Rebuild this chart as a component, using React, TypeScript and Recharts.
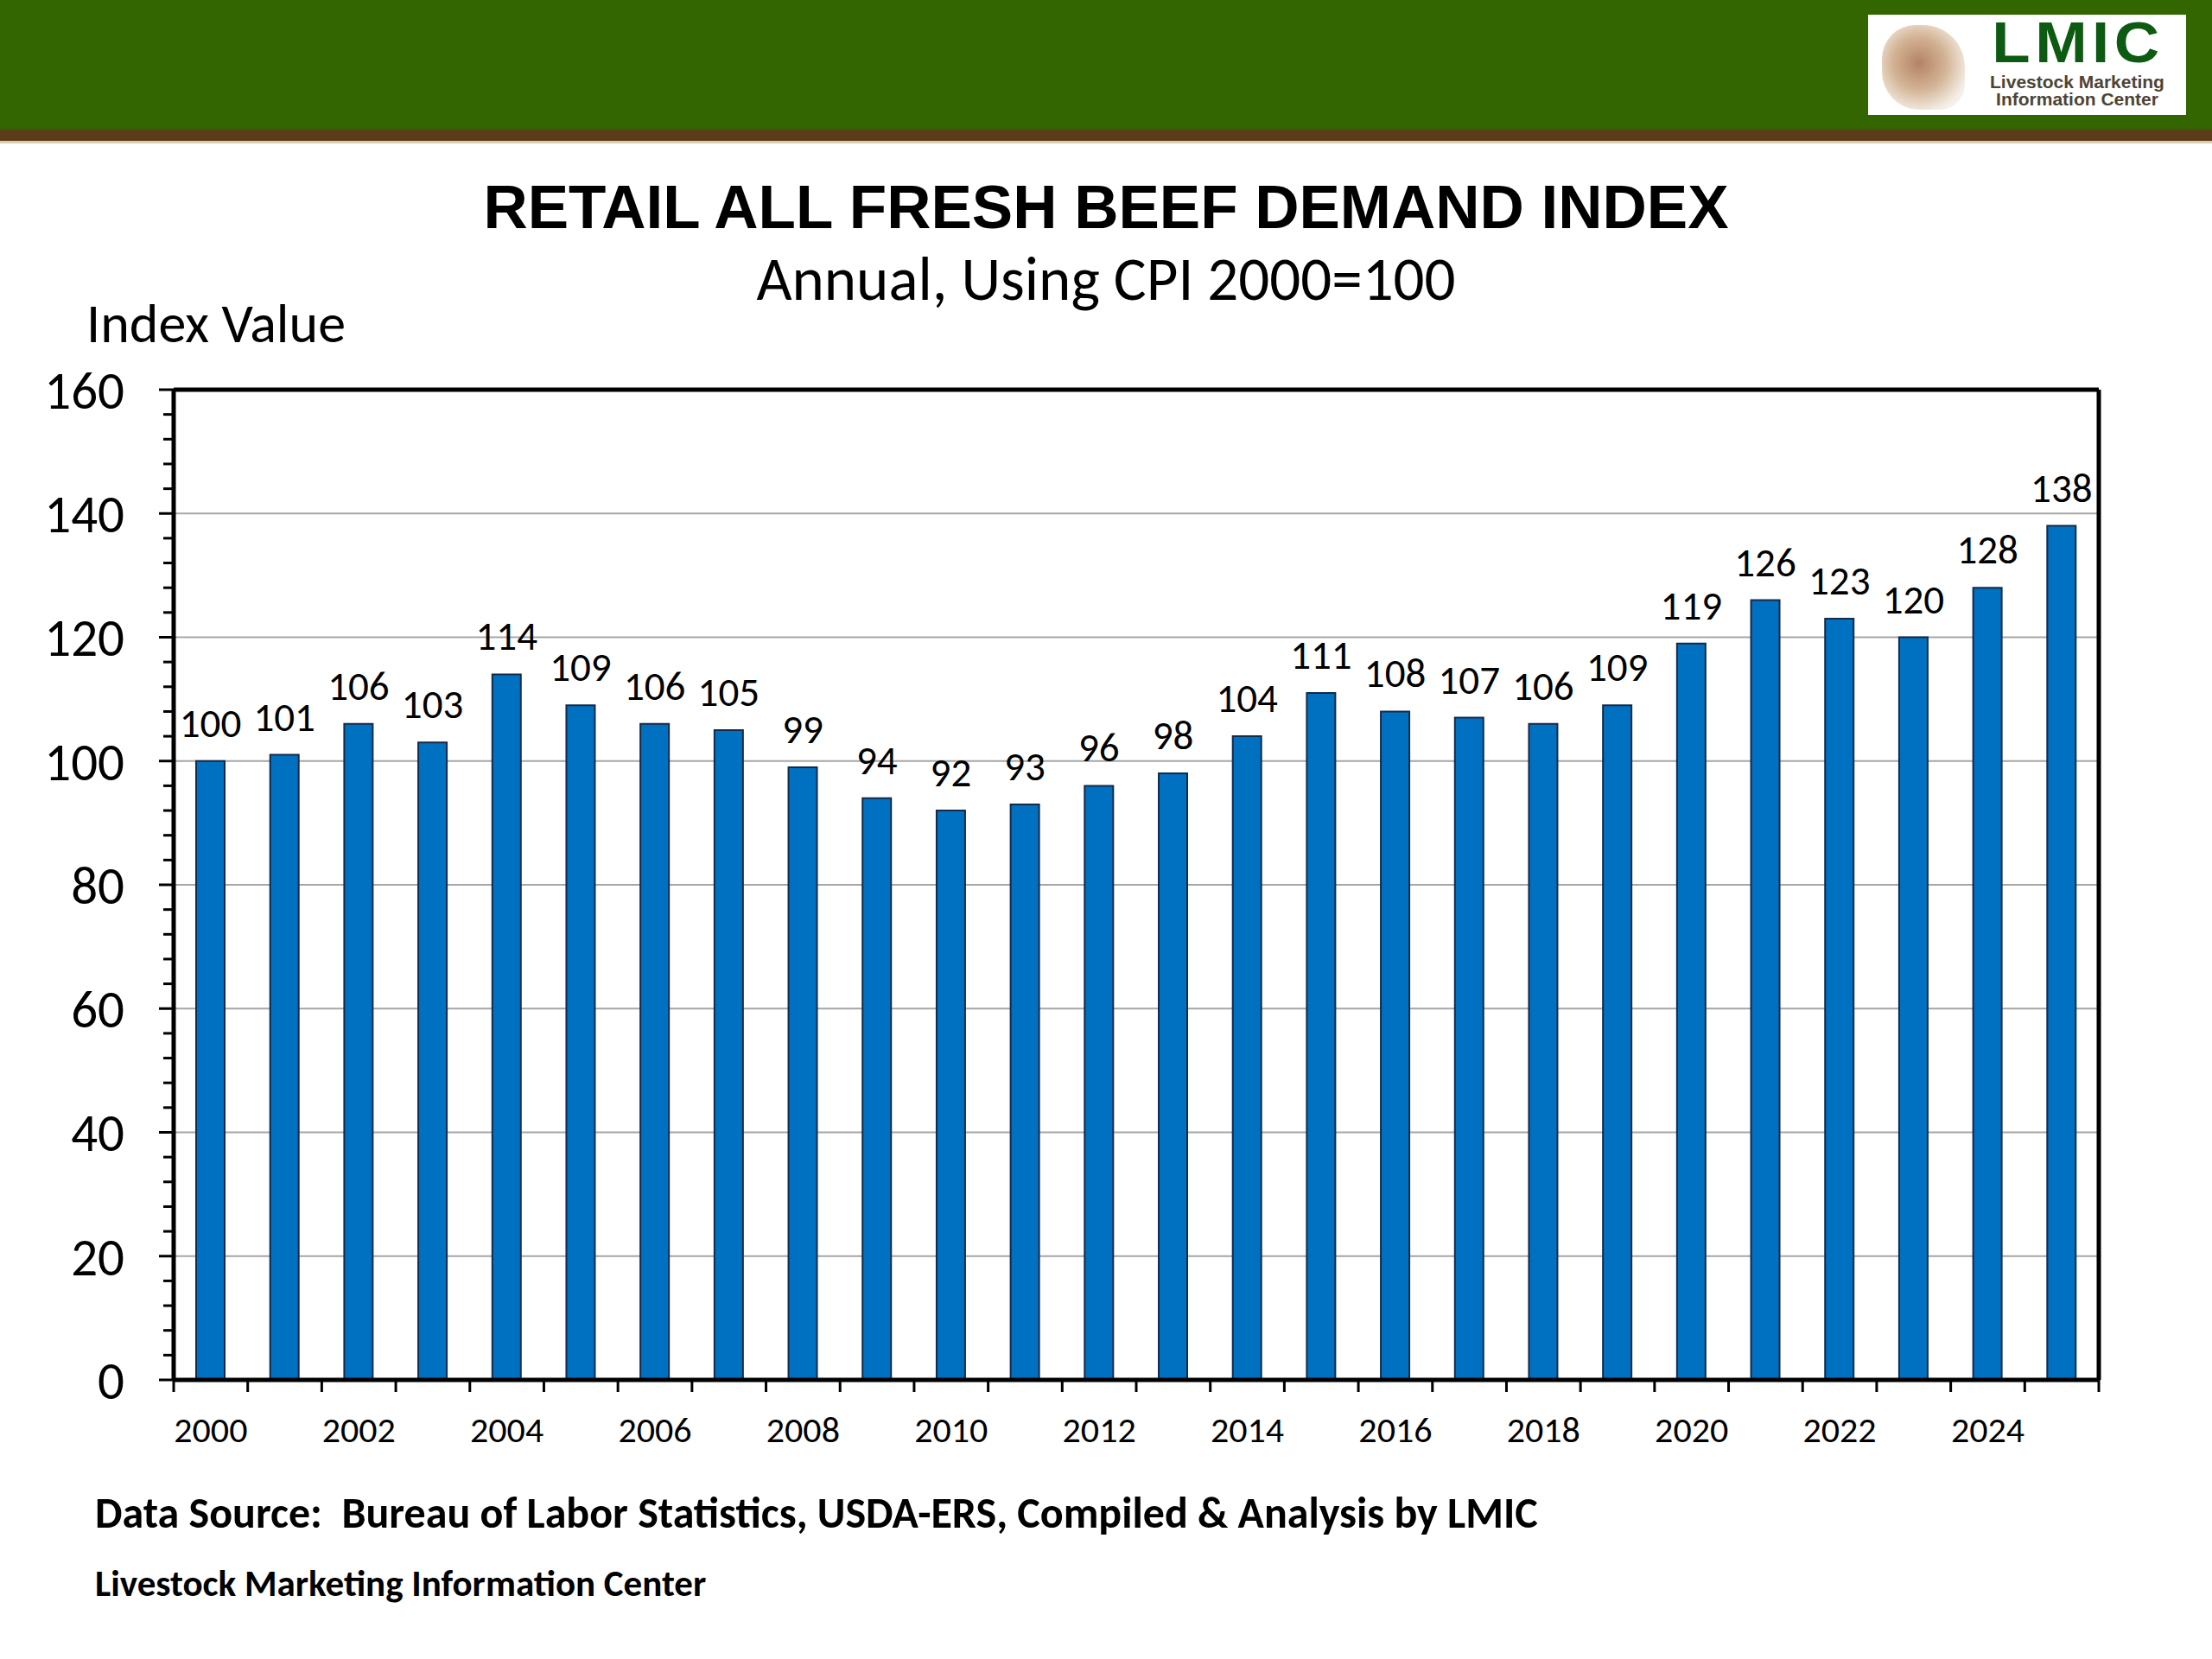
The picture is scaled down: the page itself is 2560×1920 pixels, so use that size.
import React from "react";
import { BarChart, Bar, XAxis, YAxis, CartesianGrid, LabelList } from "recharts";

const YEARS = [
  "2000", "2001", "2002", "2003", "2004", "2005", "2006", "2007", "2008", "2009",
  "2010", "2011", "2012", "2013", "2014", "2015", "2016", "2017", "2018", "2019",
  "2020", "2021", "2022", "2023", "2024", "2025",
];
const INDEX_VALUES = [
  100, 101, 106, 103, 114, 109, 106, 105, 99, 94,
  92, 93, 96, 98, 104, 111, 108, 107, 106, 109,
  119, 126, 123, 120, 128, 138,
];
const Y_TICKS = [
  0, 4, 8, 12, 16, 20, 24, 28, 32, 36, 40, 44, 48, 52, 56, 60, 64, 68, 72, 76, 80,
  84, 88, 92, 96, 100, 104, 108, 112, 116, 120, 124, 128, 132, 136, 140, 144, 148, 152, 156, 160,
];
const GRID_VALUES = [20, 40, 60, 80, 100, 120, 140];

const data = YEARS.map((year, i) => ({ year, value: INDEX_VALUES[i] }));

const BODY_FONT = "Carlito, Lato, 'Open Sans', sans-serif";
const AXIS_STYLE = { stroke: "#000", strokeWidth: 5 };

function YTick(props: any) {
  const { x, y, payload } = props;
  const major = payload.value % 20 === 0;
  return (
    <g>
      <line x1={x - (major ? 17 : 12)} x2={x} y1={y} y2={y} stroke="#000" strokeWidth={3} />
      {major && (
        <text x={x - 57} y={y} dy="0.36em" textAnchor="end" fontFamily={BODY_FONT} fontSize={61} fill="#000">
          {payload.value}
        </text>
      )}
    </g>
  );
}

function XTick(props: any) {
  const { x, y, payload, index, width, visibleTicksCount } = props;
  const half = payload.offset || width / visibleTicksCount / 2;
  const showLabel = Number(payload.value) % 2 === 0;
  return (
    <g>
      <line x1={x - half} x2={x - half} y1={y} y2={y + 14} stroke="#000" strokeWidth={3} />
      {index === visibleTicksCount - 1 && (
        <line x1={x + half} x2={x + half} y1={y} y2={y + 14} stroke="#000" strokeWidth={3} />
      )}
      {showLabel && (
        <text x={x} y={y + 57} dy="0.36em" textAnchor="middle" fontFamily={BODY_FONT} fontSize={42} fill="#000">
          {payload.value}
        </text>
      )}
    </g>
  );
}

export default function App() {
  return (
    <div style={{ position: "absolute", left: 0, top: 0, width: 2560, height: 1920, background: "#fff", overflow: "hidden" }}>
      {/* header band */}
      <div style={{ position: "absolute", left: 0, top: 0, width: 2560, height: 150, background: "#336600" }} />
      <div style={{ position: "absolute", left: 0, top: 150, width: 2560, height: 13, background: "#5b3c19" }} />
      <div style={{ position: "absolute", left: 0, top: 163, width: 2560, height: 3, background: "#d9ccb4" }} />
      <div
        style={{
          position: "absolute", left: 2162, top: 17, width: 368, height: 116, background: "#fff",
          fontFamily: "'Liberation Sans', Arial, sans-serif",
        }}
      >
        <div style={{ position: "absolute", left: 16, top: 12, width: 96, height: 98, borderRadius: "40% 50% 30% 45%", background: "radial-gradient(circle at 45% 45%, #9a5a30 0%, #c49870 40%, #efe6da 75%, #fff 100%)", opacity: 0.75 }} />
        <div style={{ position: "absolute", left: 126, top: 4, width: 234, height: 58, textAlign: "center", fontSize: 66, lineHeight: "56px", fontWeight: 700, color: "#0d5a12", letterSpacing: 5, transform: "scaleX(1.1)" }}>
          LMIC
        </div>
        <div style={{ position: "absolute", left: 122, top: 68, width: 240, textAlign: "center", fontSize: 21, fontWeight: 700, color: "#4d4436", lineHeight: "20px" }}>
          Livestock Marketing
          <br />
          Information Center
        </div>
      </div>

      {/* titles */}
      <div style={{ position: "absolute", left: 0, top: 196, width: 2560, textAlign: "center", fontFamily: "'Liberation Sans', Arial, sans-serif", fontWeight: 700, fontSize: 71, lineHeight: "88px", color: "#000" }}>
        RETAIL ALL FRESH BEEF DEMAND INDEX
      </div>
      <div style={{ position: "absolute", left: 0, top: 280, width: 2560, textAlign: "center", fontFamily: BODY_FONT, fontSize: 71, lineHeight: "86px", color: "#000" }}>
        Annual, Using CPI 2000=100
      </div>
      <div style={{ position: "absolute", left: 100, top: 335, fontFamily: BODY_FONT, fontSize: 64, lineHeight: "78px", color: "#000" }}>
        Index Value
      </div>

      <div style={{ position: "absolute", left: 0, top: 0 }}>
        <BarChart
          width={2560}
          height={1920}
          data={data}
          margin={{ top: 450, right: 130, bottom: 223, left: 0 }}
          barSize={33}
        >
          <CartesianGrid vertical={false} horizontalValues={GRID_VALUES} stroke="#a6a6a6" strokeWidth={2} />
          <XAxis
            dataKey="year"
            interval={0}
            height={100}
            tickSize={0}
            tickMargin={0}
            tickLine={false}
            axisLine={AXIS_STYLE}
            tick={<XTick />}
          />
          <XAxis xAxisId="top" dataKey="year" orientation="top" height={1} tick={false} tickLine={false} axisLine={AXIS_STYLE} />
          <YAxis
            domain={[0, 160]}
            ticks={Y_TICKS}
            interval={0}
            width={201}
            tickSize={0}
            tickMargin={0}
            tickLine={false}
            axisLine={AXIS_STYLE}
            tick={<YTick />}
          />
          <YAxis yAxisId="right" orientation="right" domain={[0, 160]} width={1} tick={false} tickLine={false} axisLine={AXIS_STYLE} />
          <Bar dataKey="value" fill="#0070c0" stroke="#142a4a" strokeWidth={2} isAnimationActive={false}>
            <LabelList dataKey="value" position="top" offset={28} fontFamily={BODY_FONT} fontSize={47} fill="#000" />
          </Bar>
        </BarChart>
      </div>

      {/* footer */}
      <div style={{ position: "absolute", left: 110, top: 1720, fontFamily: BODY_FONT, fontWeight: 700, fontSize: 50, lineHeight: "62px", color: "#000", whiteSpace: "pre" }}>
        {"Data Source:  Bureau of Labor Statistics, USDA-ERS, Compiled & Analysis by LMIC"}
      </div>
      <div style={{ position: "absolute", left: 110, top: 1806, fontFamily: BODY_FONT, fontWeight: 700, fontSize: 43, lineHeight: "54px", color: "#000" }}>
        Livestock Marketing Information Center
      </div>
    </div>
  );
}
